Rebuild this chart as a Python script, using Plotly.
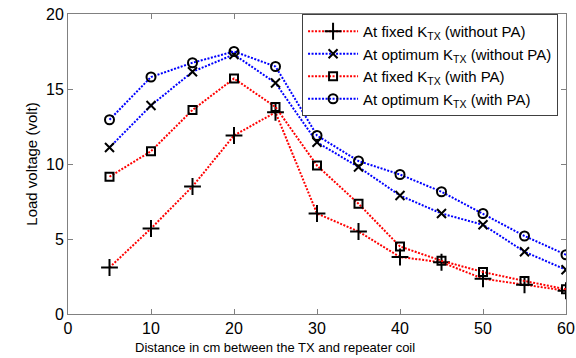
import plotly.graph_objects as go

distance = [5, 10, 15, 20, 25, 30, 35, 40, 45, 50, 55, 60]
fixed_no_pa = [3.1, 5.7, 8.5, 11.9, 13.45, 6.7, 5.5, 3.8, 3.45, 2.35, 1.95, 1.55]
opt_no_pa = [11.1, 13.9, 16.15, 17.3, 15.4, 11.45, 9.8, 7.9, 6.7, 5.95, 4.15, 2.95]
fixed_pa = [9.15, 10.85, 13.6, 15.7, 13.8, 9.9, 7.35, 4.5, 3.55, 2.8, 2.2, 1.65]
opt_pa = [12.95, 15.8, 16.75, 17.5, 16.5, 11.9, 10.2, 9.3, 8.15, 6.7, 5.2, 3.95]

names = [
    "At fixed K<sub>TX</sub> (without PA)",
    "At optimum K<sub>TX</sub> (without PA)",
    "At fixed K<sub>TX</sub> (with PA)",
    "At optimum K<sub>TX</sub> (with PA)",
]
series = [fixed_no_pa, opt_no_pa, fixed_pa, opt_pa]
colors = ["#ff0000", "#0000ff", "#ff0000", "#0000ff"]
symbols = ["cross-thin-open", "x-thin-open", "square-open", "circle-open"]
sizes = [12, 9, 8, 9]
x_title = "Distance in cm between the TX and repeater coil"
y_title = "Load voltage (volt)"

fig = go.Figure()
for name, ys, c, s, sz in zip(names, series, colors, symbols, sizes):
    fig.add_trace(go.Scatter(
        x=distance, y=ys, name=name, mode="lines+markers",
        line=dict(color=c, width=2, dash="2px,1.5px"),
        marker=dict(symbol=s, size=sz, color="black",
                    line=dict(color="black", width=2)),
    ))

axis_common = dict(
    showgrid=False, zeroline=False, showline=True, mirror="ticks",
    linecolor="#808080", linewidth=1, ticks="inside", ticklen=5,
    tickcolor="#808080", tickfont=dict(size=16, color="black"),
    automargin=False,
)
fig.update_layout(
    width=576, height=358,
    margin=dict(l=68, r=10, t=14, b=44),
    paper_bgcolor="white", plot_bgcolor="white",
    font=dict(family="Liberation Sans, Arial, sans-serif", color="black"),
    xaxis=dict(range=[0, 60], tickvals=[0, 10, 20, 30, 40, 50, 60], **axis_common),
    yaxis=dict(range=[0, 20], tickvals=[0, 5, 10, 15, 20],
               title=dict(text=y_title, font=dict(size=15), standoff=4),
               **axis_common),
    legend=dict(x=0.47, y=1.0, xanchor="left", yanchor="top",
                bordercolor="#404040", borderwidth=1, bgcolor="white",
                font=dict(size=15), tracegroupgap=0, itemwidth=50),
    showlegend=True,
    annotations=[dict(text=x_title, xref="paper", yref="paper",
                      x=0.416, y=-0.11, xanchor="center", yanchor="middle",
                      showarrow=False, font=dict(size=13))],
)
fig.write_html("out.html", config={"displayModeBar": False},
               post_script="document.body.style.margin='0';")
